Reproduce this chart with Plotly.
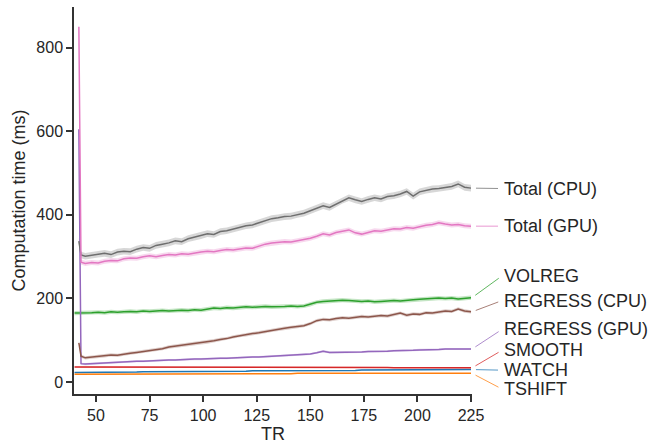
import plotly.graph_objects as go

# TR sample points (first point at TR 40, then 42, 43 and every third TR)
TR = [40, 42, 43] + list(range(45, 226, 3))

TOTAL_CPU = [None, 337, 304, 301, 303, 306, 308, 305, 311, 313, 312, 318, 322, 320, 327, 330,
             333, 338, 336, 343, 347, 350, 355, 353, 360, 362, 366, 370, 374, 376, 381, 386,
             391, 393, 396, 397, 401, 404, 410, 416, 422, 418, 426, 435, 441, 436, 432, 437,
             441, 438, 444, 446, 450, 456, 445, 455, 459, 462, 463, 466, 468, 474, 466, 464]
TOTAL_GPU = [None, 850, 287, 284, 286, 285, 289, 291, 290, 295, 297, 296, 300, 302, 300, 303,
             305, 304, 307, 306, 309, 311, 313, 312, 315, 317, 316, 318, 321, 320, 325, 330,
             333, 334, 336, 335, 338, 341, 344, 349, 355, 352, 358, 361, 364, 357, 354, 358,
             362, 361, 364, 367, 366, 370, 368, 372, 375, 377, 381, 378, 376, 377, 374, 373]
VOLREG = [165, 165, 166, 165, 166, 167, 166, 168, 167, 168, 169, 168, 170, 169, 170, 171,
          170, 171, 172, 171, 173, 172, 175, 177, 176, 178, 177, 178, 180, 179, 180, 181,
          180, 180, 181, 182, 181, 182, 186, 191, 193, 194, 195, 196, 195, 194, 193, 194,
          192, 193, 194, 195, 194, 196, 197, 198, 199, 200, 201, 200, 201, 199, 200, 202]
REGRESS_CPU = [None, 94, 62, 58, 60, 62, 63, 65, 64, 67, 69, 71, 73, 75, 78, 80,
               84, 86, 88, 90, 92, 94, 96, 99, 102, 104, 108, 111, 113, 116, 118, 121,
               124, 127, 129, 131, 133, 135, 140, 147, 150, 149, 152, 154, 153, 155, 157, 156,
               158, 159, 158, 162, 165, 160, 163, 162, 166, 165, 168, 170, 169, 175, 170, 168]
REGRESS_GPU = [None, 605, 44, 43, 44, 45, 45, 47, 48, 48, 49, 50, 50, 51, 52, 52,
               53, 53, 54, 54, 55, 55, 56, 56, 57, 57, 58, 58, 59, 60, 60, 61,
               62, 62, 63, 64, 65, 66, 67, 70, 74, 71, 71, 72, 71, 72, 72, 73,
               73, 74, 74, 75, 75, 76, 76, 77, 77, 78, 78, 79, 79, 80, 79, 79]
SMOOTH = [36, 36, 35, 35, 35, 35, 35, 35, 35, 35, 35, 35, 35, 35, 35, 35,
          35, 35, 35, 35, 35, 35, 35, 35, 35, 35, 35, 35, 35, 35, 35, 35,
          35, 35, 35, 35, 35, 35, 35, 35, 35, 35, 35, 35, 35, 35, 35, 35,
          35, 35, 35, 34, 34, 34, 34, 34, 34, 34, 34, 34, 34, 34, 34, 34]
WATCH = [23, 23, 23, 23, 23, 24, 24, 24, 24, 24, 24, 24, 25, 25, 25, 25,
         25, 25, 25, 26, 26, 26, 26, 26, 26, 26, 26, 26, 26, 27, 27, 27,
         27, 27, 27, 27, 27, 27, 28, 28, 28, 28, 28, 28, 28, 28, 29, 29,
         29, 29, 29, 29, 29, 29, 30, 30, 30, 30, 30, 30, 30, 30, 30, 30]
TSHIFT = [19, 19, 19, 19, 19, 19, 19, 19, 19, 19, 19, 19, 19, 19, 20, 20,
          20, 20, 20, 20, 20, 20, 20, 20, 20, 20, 20, 20, 20, 20, 20, 20,
          20, 20, 20, 20, 21, 21, 21, 21, 21, 21, 21, 21, 21, 21, 21, 21,
          21, 21, 21, 21, 21, 21, 21, 21, 21, 21, 21, 21, 21, 21, 21, 21]

# 95% CI half-width (ms) for each stage
CI_HALF = {"Total (CPU)": 8, "Total (GPU)": 6, "VOLREG": 5, "REGRESS (CPU)": 4,
           "REGRESS (GPU)": 2.5, "SMOOTH": 1, "WATCH": 1, "TSHIFT": 1}

# stage name, values, colour (drawing order: bottom to top)
SERIES = [
    ("WATCH", WATCH, (31, 119, 180)),
    ("TSHIFT", TSHIFT, (255, 127, 14)),
    ("SMOOTH", SMOOTH, (214, 39, 40)),
    ("VOLREG", VOLREG, (44, 160, 44)),
    ("REGRESS (GPU)", REGRESS_GPU, (148, 103, 189)),
    ("REGRESS (CPU)", REGRESS_CPU, (140, 86, 75)),
    ("Total (CPU)", TOTAL_CPU, (110, 110, 110)),
    ("Total (GPU)", TOTAL_GPU, (227, 119, 194)),
]

# y position (ms) of each end label on the right
LABEL_Y = {"Total (CPU)": 463, "Total (GPU)": 373, "VOLREG": 254, "REGRESS (CPU)": 195,
           "REGRESS (GPU)": 126, "SMOOTH": 76, "WATCH": 28.5, "TSHIFT": -16.6}

FONT = "Liberation Sans, Arial, sans-serif"
INK = "#262626"

fig = go.Figure()

for name, vals, (r, g, b) in SERIES:
    pts = [(t, v) for t, v in zip(TR, vals) if v is not None]
    xs = [p[0] for p in pts]
    ys = [p[1] for p in pts]
    h = CI_HALF[name]
    upper = [v + h for v in ys]
    lower = [v - h for v in ys]
    fig.add_trace(go.Scatter(
        x=xs + xs[::-1], y=upper + lower[::-1], fill="toself",
        fillcolor=f"rgba({r},{g},{b},0.28)", line=dict(width=0),
        hoverinfo="skip", showlegend=False))
    fig.add_trace(go.Scatter(
        x=xs, y=ys, mode="lines", name=name,
        line=dict(color=f"rgb({r},{g},{b})", width=1.5), showlegend=False))
    fig.add_annotation(
        x=1, xref="paper", y=ys[-1], yref="y",
        ax=30, axref="pixel", ay=LABEL_Y[name], ayref="y",
        showarrow=True, arrowhead=0, arrowwidth=1,
        arrowcolor=f"rgba({r},{g},{b},0.75)", standoff=4, startstandoff=4,
        text=name, xanchor="left", yanchor="middle",
        font=dict(family=FONT, size=18, color=INK))

axis_common = dict(
    showgrid=False, zeroline=False, showline=True, linecolor="#333333", linewidth=1.5,
    ticks="outside", ticklen=6, tickwidth=1.5, tickcolor="#333333",
    tickfont=dict(family=FONT, size=16, color=INK), mirror=False)

fig.update_xaxes(
    range=[39.73, 225.46], tickvals=[50, 75, 100, 125, 150, 175, 200, 225],
    title=dict(text="TR", font=dict(family=FONT, size=18, color=INK), standoff=4),
    **axis_common)
fig.update_yaxes(
    range=[-28.5, 897.3], tickvals=[0, 200, 400, 600, 800],
    title=dict(text="Computation time (ms)", font=dict(family=FONT, size=18, color=INK),
               standoff=6),
    **axis_common)

fig.update_layout(
    width=653, height=448, autosize=False,
    margin=dict(l=74, r=181, t=7, b=51),
    plot_bgcolor="white", paper_bgcolor="white",
    font=dict(family=FONT, color=INK),
)

fig.write_html("out.html")
